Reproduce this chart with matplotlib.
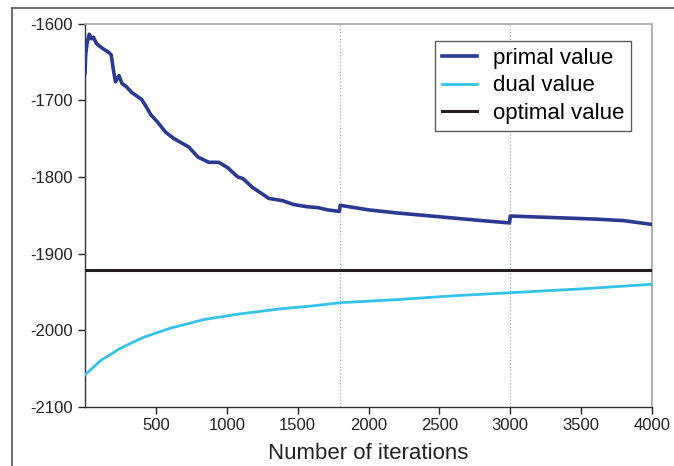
import matplotlib.pyplot as plt
from matplotlib.lines import Line2D

plt.rcParams['font.family'] = ['Liberation Sans', 'DejaVu Sans']
plt.rcParams['axes.unicode_minus'] = False

# primal value
primal_iter = [0, 5, 15, 30, 45, 60, 80, 120, 170, 185, 200, 215, 240, 260, 290, 330,
               400, 430, 465, 514, 570, 627, 732, 796, 873, 944, 1007, 1077, 1113,
               1183, 1225, 1296, 1394, 1472, 1570, 1641, 1711, 1795, 1800, 1900,
               2000, 2200, 2500, 2800, 2995, 3000, 3300, 3600, 3800, 4000]
primal_val = [-1665, -1640, -1625, -1614, -1620, -1618, -1626, -1632, -1638, -1641,
              -1660, -1676, -1668, -1678, -1682, -1690, -1699, -1708, -1719, -1729,
              -1742, -1750, -1761, -1774, -1781, -1781, -1788, -1800, -1802, -1814,
              -1819, -1828, -1831, -1836, -1839, -1840, -1843, -1845, -1837, -1840,
              -1843, -1847, -1852, -1857, -1860, -1851, -1853, -1855, -1857, -1862]

# dual value
dual_iter = [0, 113, 254, 415, 606, 838, 1077, 1380, 1613, 1803, 2200, 2600, 3000, 3500, 4000]
dual_val = [-2058, -2039, -2023, -2009, -1997, -1986, -1979, -1972, -1968, -1964,
            -1960, -1955, -1951, -1946, -1940]

optimal = -1922
restarts = [1800, 3000]

xticks = [500, 1000, 1500, 2000, 2500, 3000, 3500, 4000]
yticks = [-2100, -2000, -1900, -1800, -1700, -1600]

fig = plt.figure(figsize=(6.74, 4.66), dpi=100)
ax = fig.add_axes([85 / 674, 1 - 407 / 466, (652 - 85) / 674, (407 - 23.5) / 466])

for r in restarts:
    ax.axvline(r, color='#aaaaaa', linestyle=':', linewidth=0.9, zorder=1)

ax.plot(primal_iter, primal_val, color='#2b3990', linewidth=2.6, label='primal value', zorder=3)
ax.plot(dual_iter, dual_val, color='#35c2ea', linewidth=2.0, label='dual value', zorder=3)
ax.axhline(optimal, color='#231f20', linewidth=2.2, label='optimal value', zorder=3)

ax.set_xlim(0, 4000)
ax.set_ylim(-2100, -1600)
ax.set_xticks(xticks)
ax.set_yticks(yticks)
ax.tick_params(axis='both', direction='out', length=5, width=1, labelsize=12, colors='#222222')
ax.tick_params(axis='x', pad=3)
ax.set_xlabel('Number of iterations', fontsize=16, color='#222222', labelpad=7)

for s in ['top', 'right']:
    ax.spines[s].set_color('#aaaaaa')
    ax.spines[s].set_linewidth(1.3)
for s in ['left', 'bottom']:
    ax.spines[s].set_color('#333333')
    ax.spines[s].set_linewidth(1.0)

leg = ax.legend(loc='upper right', bbox_to_anchor=((631 - 85) / 567, 1 - (41 - 23.5) / 383.5),
                borderaxespad=0, fontsize=16, frameon=True, fancybox=False, handlelength=1.6,
                handletextpad=0.7, borderpad=0.3, labelspacing=0.3)
leg.get_frame().set_edgecolor('#333333')
leg.get_frame().set_linewidth(1.0)

# outer frame lines of the figure
fig.add_artist(Line2D([12 / 674, 1], [1 - 8 / 466, 1 - 8 / 466], color='#555555', linewidth=1.2))
fig.add_artist(Line2D([12 / 674, 12 / 674], [0, 1 - 8 / 466], color='#555555', linewidth=1.2))

fig.savefig('out.png', dpi=100)
